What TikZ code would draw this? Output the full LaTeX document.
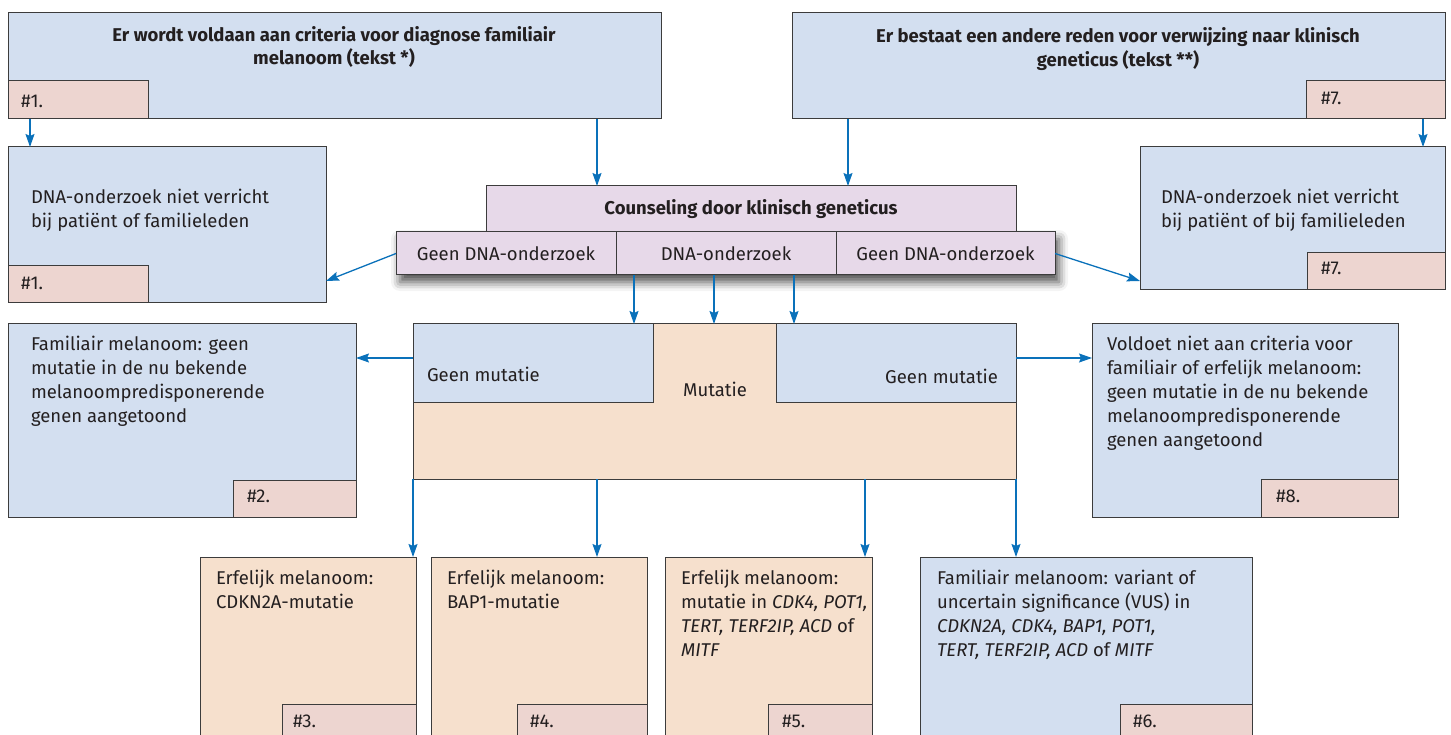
\documentclass[tikz,border=0pt]{standalone}
\usepackage{fontspec}
\setmainfont{Fira Sans}
\usetikzlibrary{arrows.meta,shadows.blur,fit,backgrounds}
\definecolor{bluefill}{HTML}{D3DFF0}
\definecolor{tagfill}{HTML}{EDD5D0}
\definecolor{peach}{HTML}{F6E0CD}
\definecolor{lav}{HTML}{E7D9E9}
\definecolor{arrblue}{HTML}{0A71BA}
\definecolor{edge}{HTML}{3C3C3C}
\definecolor{txtcol}{HTML}{231F20}
\begin{document}
\begin{tikzpicture}[x=1pt,y=-1pt,
  box/.style={draw=edge, line width=1pt, inner sep=0pt, outer sep=0pt},
  bluebox/.style={box, fill=bluefill},
  tagbox/.style={box, fill=tagfill},
  peachbox/.style={box, fill=peach},
  lavbox/.style={box, fill=lav},
  txt/.style={inner sep=0pt, outer sep=0pt, text=txtcol, font=\fontsize{18.5}{24}\selectfont, align=left, anchor=north west},
  ctxt/.style={inner sep=0pt, outer sep=0pt, text=txtcol, font=\fontsize{18.5}{24}\selectfont, anchor=center},
  ttl/.style={inner sep=0pt, outer sep=0pt, text=txtcol, font=\bfseries\fontsize{18.5}{24}\selectfont, align=center, anchor=north},
  arr/.style={draw=arrblue, line width=1.3pt, -{Stealth[length=13pt,width=9pt,inset=2pt]}},
]
\useasboundingbox (0,0) rectangle (1451,735);
\clip (0,0) rectangle (1451,735);

% top boxes
\node[bluebox, fit={(8,13)(661,119)}] (tl) {};
\node[tagbox, fit={(8,81)(148,119)}] (tlTag) {};
\node[ttl] (tlText) at (334,26) {Er wordt voldaan aan criteria voor diagnose familiair\\melanoom (tekst *)};
\node[txt] (tlTagT) at (21,95) {\#1.};

\node[bluebox, fit={(792,13)(1445,119)}] (tr) {};
\node[tagbox, fit={(1306,81)(1445,119)}] (trTag) {};
\node[ttl] (trText) at (1118,27) {Er bestaat een andere reden voor verwijzing naar klinisch\\geneticus (tekst **)};
\node[txt] (trTagT) at (1321,92) {\#7.};

% DNA not done boxes
\node[bluebox, fit={(8,147)(326,303)}] (dl) {};
\node[tagbox, fit={(8,266)(148,303)}] (dlTag) {};
\node[txt] (dlText) at (31,189) {DNA-onderzoek niet verricht\\bij patiënt of familieleden};
\node[txt] (dlTagT) at (21,277) {\#1.};

\node[bluebox, fit={(1140,147)(1445,290)}] (dr) {};
\node[tagbox, fit={(1307,253)(1445,290)}] (drTag) {};
\node[txt] (drText) at (1161,189) {DNA-onderzoek niet verricht\\bij patiënt of bij familieleden};
\node[txt] (drTagT) at (1321,262) {\#7.};

% counseling
\node[lavbox, fit={(486,186)(1016,232)}] (couns) {};
\node[ctxt, font=\bfseries\fontsize{18.5}{24}\selectfont] (counsT) at (751,209) {Counseling door klinisch geneticus};
\node[lavbox, fit={(396,232)(616,275)}] (g1) {};
\node[lavbox, fit={(616,232)(836,275)}] (g2) {};
\node[lavbox, fit={(836,232)(1055,275)}] (g3) {};
\node[ctxt] (g1T) at (g1.center) {Geen DNA-onderzoek};
\node[ctxt] (g2T) at (g2.center) {DNA-onderzoek};
\node[ctxt] (g3T) at (g3.center) {Geen DNA-onderzoek};
\begin{scope}[on background layer]
\path[blur shadow={shadow xshift=4pt, shadow yshift=-7pt, shadow blur radius=9pt, shadow opacity=70}] (g1.north west) rectangle (g3.south east);
\end{scope}

% mutation block
\node[peachbox, fit={(413,324)(1016,479)}] (mut) {};
\node[bluebox, fit={(413,324)(653,402)}] (gm1) {};
\node[bluebox, fit={(776,324)(1016,402)}] (gm2) {};
\node[txt] (gm1T) at (427,367) {Geen mutatie};
\node[txt, anchor=north east] (gm2T) at (998,369) {Geen mutatie};
\node[ctxt] (mutT) at (715,389) {Mutatie};

% side result boxes
\node[bluebox, fit={(8,324)(356,517)}] (fl) {};
\node[tagbox, fit={(233,480)(356,517)}] (flTag) {};
\node[txt] (flText) at (31,336) {Familiair melanoom: geen\\mutatie in de nu bekende\\melanoompredisponerende\\genen aangetoond};
\node[txt] (flTagT) at (247,490) {\#2.};

\node[bluebox, fit={(1092,324)(1398,517)}] (fr) {};
\node[tagbox, fit={(1261,479)(1398,517)}] (frTag) {};
\node[txt] (frText) at (1107,336) {Voldoet niet aan criteria voor\\familiair of erfelijk melanoom:\\geen mutatie in de nu bekende\\melanoompredisponerende\\genen aangetoond};
\node[txt] (frTagT) at (1276,490) {\#8.};

% bottom boxes
\node[peachbox, fit={(200,557)(416,745)}] (b3) {};
\node[tagbox, fit={(282,704)(416,745)}] (b3Tag) {};
\node[txt] (b3Text) at (216,570) {Erfelijk melanoom:\\CDKN2A-mutatie};
\node[txt] (b3TagT) at (293,715) {\#3.};

\node[peachbox, fit={(431,557)(647,745)}] (b4) {};
\node[tagbox, fit={(517,704)(647,745)}] (b4Tag) {};
\node[txt] (b4Text) at (447,570) {Erfelijk melanoom:\\BAP1-mutatie};
\node[txt] (b4TagT) at (530,715) {\#4.};

\node[peachbox, fit={(665,557)(872,745)}] (b5) {};
\node[tagbox, fit={(768,704)(872,745)}] (b5Tag) {};
\node[txt] (b5Text) at (681,570) {Erfelijk melanoom:\\mutatie in \textit{CDK4, POT1,}\\\textit{TERT, TERF2IP, ACD} of\\\textit{MITF}};
\node[txt] (b5TagT) at (782,715) {\#5.};

\node[bluebox, fit={(920,557)(1252,745)}] (b6) {};
\node[tagbox, fit={(1120,704)(1252,745)}] (b6Tag) {};
\node[txt] (b6Text) at (937,570) {Familiair melanoom: variant of\\uncertain significance (VUS) in\\\textit{CDKN2A, CDK4, BAP1, POT1,}\\\textit{TERT, TERF2IP, ACD} of \textit{MITF}};
\node[txt] (b6TagT) at (1133,715) {\#6.};

% connectors
\draw[arr] (tl.south -| 30,0) -- (dl.north -| 30,0);
\draw[arr] (tl.south -| 597,0) -- (couns.north -| 597,0);
\draw[arr] (tr.south -| 848,0) -- (couns.north -| 848,0);
\draw[arr] (tr.south -| 1423,0) -- (dr.north -| 1423,0);
\draw[arr] (g1.west) -- (dl.east |- 0,281);
\draw[arr] (g3.east) -- (dr.west |- 0,281);
\draw[arr] (g2.south -| 634,0) -- (mut.north -| 634,0);
\draw[arr] (g2.south -| 714,0) -- (mut.north -| 714,0);
\draw[arr] (g2.south -| 794,0) -- (mut.north -| 794,0);
\draw[arr] (gm1.west |- 0,358) -- (fl.east |- 0,358);
\draw[arr] (gm2.east |- 0,358) -- (fr.west |- 0,358);
\draw[arr] (mut.south -| 413,0) -- (b3.north -| 413,0);
\draw[arr] (mut.south -| 597,0) -- (b4.north -| 597,0);
\draw[arr] (mut.south -| 865,0) -- (b5.north -| 865,0);
\draw[arr] (mut.south -| 1016,0) -- (b6.north -| 1016,0);
\end{tikzpicture}
\end{document}
